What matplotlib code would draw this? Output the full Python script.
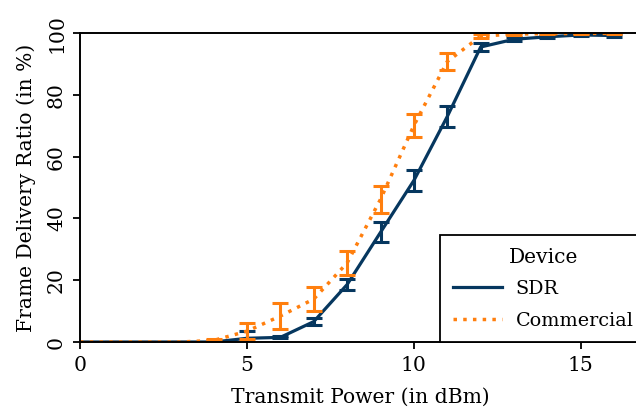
import numpy as np
import matplotlib.pyplot as plt

power = list(range(0, 17))
sdr_mean = [0, 0, 0, 0, 0, 1.2, 1.5, 6.6, 18.6, 35.5, 52.3, 73, 95.5, 98, 98.8, 99.4, 99.2]
sdr_err = [0, 0, 0, 0, 0.1, 2.4, 0.3, 1.1, 1.9, 3.2, 3.4, 3.5, 1.2, 0.6, 0.4, 0.3, 0.4]
comm_mean = [0, 0, 0, 0, 0.5, 3.5, 8.4, 13.9, 25.6, 46.2, 70.1, 90.8, 99, 99.7, 99.8, 99.9, 99.9]
comm_err = [0, 0, 0, 0, 0.6, 2.6, 4.1, 4.0, 4.0, 4.4, 3.7, 2.7, 0.6, 0.3, 0.2, 0.1, 0.1]

navy = '#06375f'
orange = '#ff7f0e'

plt.rcParams['font.family'] = ['DejaVu Serif']
plt.rcParams['font.size'] = 14.6

fig = plt.figure(figsize=(6.36, 4.07), dpi=100)
ax = fig.add_axes([0.1258, 0.1597, 0.882, 0.759])

ax.plot(power, sdr_mean, color=navy, lw=2.3, label='SDR')
ax.errorbar(power, sdr_mean, yerr=sdr_err, fmt='none', ecolor=navy,
            elinewidth=2.2, capsize=5.5, capthick=2.2)
ax.plot(power, comm_mean, color=orange, lw=2.5, ls=(0, (1, 1.8)), label='Commercial')
ax.errorbar(power, comm_mean, yerr=comm_err, fmt='none', ecolor=orange,
            elinewidth=2.2, capsize=5.5, capthick=2.2)

ax.set_xlim(0, 16.8)
ax.set_ylim(0, 100)
ax.set_xticks([0, 5, 10, 15])
ax.set_yticks([0, 20, 40, 60, 80, 100])
for lbl in ax.get_yticklabels():
    lbl.set_rotation(90)
    lbl.set_va('center')
ax.tick_params(width=1.3, length=5, pad=5)
for s in ax.spines.values():
    s.set_linewidth(1.4)

ax.set_xlabel('Transmit Power (in dBm)', labelpad=9)
ax.set_ylabel('Frame Delivery Ratio (in %)', labelpad=8)

leg = ax.legend(title='Device', loc='lower left', bbox_to_anchor=(0.642, 0),
                borderaxespad=0, fancybox=False, edgecolor='black', framealpha=1,
                fontsize=13.8, title_fontsize=14.6,
                handlelength=2.6, handletextpad=0.7, labelspacing=0.7,
                borderpad=0.65)
leg.get_frame().set_linewidth(1.3)

fig.savefig('out.png', dpi=100)
